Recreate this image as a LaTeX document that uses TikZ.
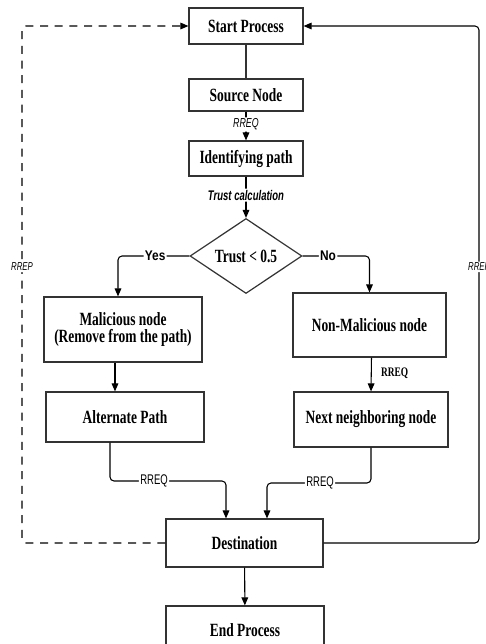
\documentclass[tikz,border=0pt]{standalone}
\usepackage{fontspec}
\setmainfont{Liberation Serif}[FakeStretch=0.72]
\setsansfont{Liberation Sans}[FakeStretch=0.68]
\newfontfamily\ansfont{Liberation Sans}[FakeStretch=0.85]
\usepackage{tikz}
\usetikzlibrary{calc,arrows.meta,shapes.geometric}
\definecolor{edge}{HTML}{333333}
\tikzset{
  box/.style={draw=edge, line width=0.9pt, fill=white, align=center, inner sep=0pt,
    font=\bfseries\fontsize{14}{13}\selectfont},
  decide/.style={diamond, draw=edge, line width=0.9pt, fill=white, inner sep=0pt,
    minimum width=84pt, minimum height=50pt, font=\bfseries\fontsize{14}{13}\selectfont},
  link/.style={draw=black, line width=0.8pt, rounded corners=3pt},
  arr/.style={link, -{Triangle[length=6pt,width=5pt]}},
  back/.style={arr, dash pattern=on 6pt off 5pt},
  msgi/.style={fill=white, inner sep=1pt, font=\sffamily\itshape\fontsize{9.75}{10}\selectfont},
  msgb/.style={fill=white, inner sep=1pt, font=\sffamily\bfseries\itshape\fontsize{10.5}{11}\selectfont},
  msg/.style={fill=white, inner sep=1pt, font=\sffamily\fontsize{10.5}{11}\selectfont},
  ans/.style={fill=white, inner sep=1pt, font=\ansfont\bfseries\fontsize{10.5}{11}\selectfont},
  msgs/.style={inner sep=1pt, font=\bfseries\fontsize{9.75}{10}\selectfont},
  rep/.style={fill=white, inner sep=1pt, font=\sffamily\itshape\fontsize{8.6}{9}\selectfont},
}
\begin{document}
\begin{tikzpicture}[x=0.75pt, y=-0.75pt]
  \useasboundingbox (0,0) rectangle (486,644);
  \clip (0,0) rectangle (486,644);

  \node[box, minimum width=85.5pt, minimum height=27pt] (start) at (246,26) {Start Process};
  \node[box, minimum width=85.5pt, minimum height=24pt] (src) at (246,95) {Source Node};
  \node[box, minimum width=85.5pt, minimum height=26.25pt] (ident) at (246,158.5) {Identifying path};
  \node[decide] (trust) at (246,256) {Trust < 0.5};
  \node[box, minimum width=118.5pt, minimum height=48.75pt] (mal) at (123,329.5) {Malicious node\\(Remove from the path)};
  \node[box, minimum width=114.75pt, minimum height=48pt] (nonmal) at (369.5,325) {Non-Malicious node};
  \node[box, minimum width=118.5pt, minimum height=37.5pt] (alt) at (125,417) {Alternate Path};
  \node[box, minimum width=115.5pt, minimum height=41.25pt] (next) at (371,419.5) {Next neighboring node};
  \node[box, minimum width=117.75pt, minimum height=36pt] (dest) at (244.5,543) {Destination};
  \node[box, minimum width=118.5pt, minimum height=36pt] (end) at (245,630) {End Process};

  \coordinate (b1) at (226,481);
  \coordinate (b2) at (267,483);

  \draw[link, draw=edge] (start) -- (src);
  \draw[arr] (src) -- node[msgi, pos=0.45] {RREQ} (ident);
  \draw[arr] (ident) -- node[msgb, pos=0.45] {Trust calculation} (trust);
  \draw[arr] (trust.west) -| node[ans, pos=0.24] {Yes} ([xshift=-3.75pt]mal.north);
  \draw[arr] (trust.east) -| node[ans, pos=0.19] {No} (nonmal.north);
  \draw[arr] ([xshift=-6pt]mal.south) -- ([xshift=-6pt]mal.south |- alt.north);
  \draw[arr] ([xshift=1.5pt]nonmal.south) -- node[msgs, pos=0.45, anchor=west, xshift=6pt] {RREQ} (next.north);
  \draw[arr] ([xshift=-11.25pt]alt.south) |- node[msg, pos=0.69] {RREQ} (b1) -- (b1 |- dest.north);
  \draw[arr] (next.south) |- node[msg, pos=0.745] {RREQ} (b2) -- (b2 |- dest.north);
  \draw[arr] (dest) -- (end);

  \draw[back] (dest.west) -| node[rep, pos=0.767] {RREP} (22,0 |- start.west) -- (start.west);
  \draw[arr] (dest.east) -| node[rep, pos=0.767] {RREP} (479,0 |- start.east) -- (start.east);
\end{tikzpicture}
\end{document}
